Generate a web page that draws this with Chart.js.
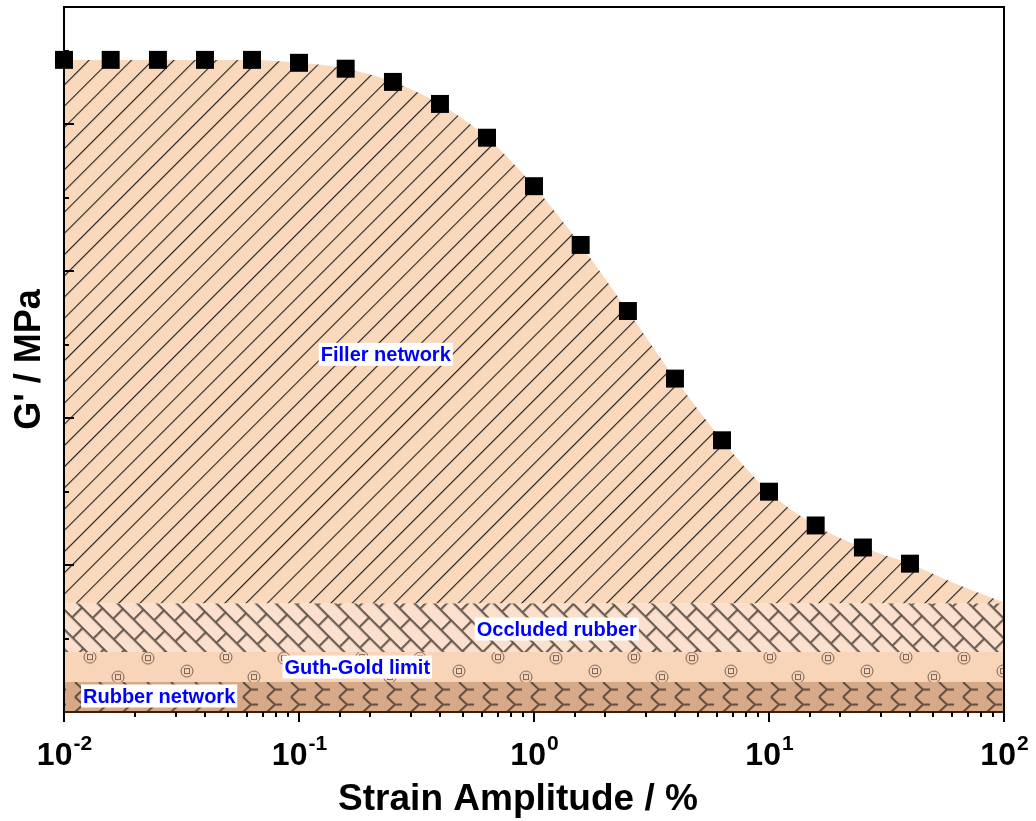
<!DOCTYPE html>
<html lang="en">
<head>
    <meta charset="UTF-8">
    <title>G' vs strain amplitude</title>
    <style>
        html, body { margin: 0; padding: 0; background: #fff; }
        #wrap { width: 1036px; height: 821px; }
    </style>
</head>
<body>
    <div id="wrap"><canvas id="payneChart" width="1036" height="821"></canvas></div>

    <script src="https://cdn.jsdelivr.net/npm/chart.js"></script>
    <script>
        // measured points: strain amplitude (%) and storage modulus (axis carries no numbers)
        const strain = [0.01, 0.0158, 0.0251, 0.0398, 0.0631, 0.1, 0.158, 0.251, 0.398, 0.631,
                        1, 1.58, 2.51, 3.98, 6.31, 10, 15.8, 25.1, 39.8];
        const storageModulus = [4.44, 4.44, 4.44, 4.44, 4.44, 4.42, 4.38, 4.29, 4.14, 3.91,
                                3.58, 3.18, 2.73, 2.27, 1.85, 1.50, 1.27, 1.12, 1.01];

        // upper edge of the filler network area (runs on past the last point to 100 %)
        const envelopeStrain = [0.01, 0.0158, 0.0251, 0.0398, 0.0631, 0.1, 0.158, 0.251, 0.398, 0.631,
                                1, 1.58, 2.51, 3.98, 6.31, 10, 15.8, 25.1, 39.8, 63.1, 100];
        const envelopeModulus = [4.44, 4.44, 4.44, 4.44, 4.44, 4.42, 4.38, 4.29, 4.14, 3.91,
                                 3.58, 3.18, 2.73, 2.27, 1.85, 1.50, 1.27, 1.12, 1.01, 0.87, 0.745];

        // horizontal contribution bands, bottom to top
        const bandNames = ['Rubber network', 'Guth-Gold limit', 'Occluded rubber'];
        const bandTops = [0.204, 0.408, 0.741];
        const strainRange = [0.01, 100];

        // text labels placed in data coordinates
        const regionLabels = [
            { text: 'Filler network', x: 0.234, y: 2.435 },
            { text: 'Occluded rubber', x: 1.25, y: 0.565 },
            { text: 'Guth-Gold limit', x: 0.177, y: 0.306 },
            { text: 'Rubber network', x: 0.0254, y: 0.109 }
        ];

        const FONT = '"Liberation Sans", Arial, sans-serif';
        const canvas = document.getElementById('payneChart');
        const ctx = canvas.getContext('2d');

        // small tiles for the hatched fills
        function makeTile(w, h, bg, draw) {
            const c = document.createElement('canvas');
            c.width = w; c.height = h;
            const g = c.getContext('2d');
            g.fillStyle = bg;
            g.fillRect(0, 0, w, h);
            draw(g);
            return ctx.createPattern(c, 'repeat');
        }

        const fillerPattern = makeTile(10, 15, '#f9d8bc', g => {
            g.fillStyle = '#1e1e1e';
            g.fillRect(0, 0, 10, 1.1);
        });
        fillerPattern.setTransform(new DOMMatrix().rotate(-45));

        const occludedPattern = makeTile(30, 28, '#fbe0cd', g => {
            g.fillStyle = 'rgba(100,86,76,0.95)';
            g.fillRect(0, 0, 30, 2.2);
            g.fillRect(0, 14, 30, 2.2);
            g.fillRect(0, 0, 2.2, 14);
            g.fillRect(15, 14, 2.2, 14);
        });

        const guthPattern = makeTile(136, 30, '#f8d5b8', g => {
            g.strokeStyle = 'rgba(115,92,80,0.95)';
            g.lineWidth = 1;
            [[12, 6], [90, 5], [51, 19], [118, 25]].forEach(([cx, cy]) => {
                g.beginPath();
                g.arc(cx, cy, 6, 0, Math.PI * 2);
                g.stroke();
                g.strokeRect(cx - 2.5, cy - 2.5, 5, 5);
            });
        });

        const rubberPattern = makeTile(24, 15, '#d6aa88', g => {
            g.strokeStyle = 'rgba(85,66,54,0.9)';
            g.lineWidth = 2;
            g.beginPath();
            g.moveTo(3, 0); g.lineTo(11, 7.5); g.lineTo(3, 15);
            g.moveTo(11, 7.5); g.lineTo(18, 7.5);
            g.stroke();
        });

        const bandData = level => strainRange.map(x => ({ x: x, y: level }));
        const points = strain.map((x, i) => ({ x: x, y: storageModulus[i] }));
        const envelope = envelopeStrain.map((x, i) => ({ x: x, y: envelopeModulus[i] }));

        const isDecade = v => {
            const m = v / Math.pow(10, Math.floor(Math.log10(v) + 1e-9));
            return Math.abs(m - 1) < 1e-6;
        };

        const axisPlugin = {
            id: 'axisPlugin',
            beforeDatasetsDraw(chart) {
                const y = chart.scales.y;
                occludedPattern.setTransform(new DOMMatrix().translate(0, y.getPixelForValue(bandTops[2])).rotate(45));
                guthPattern.setTransform(new DOMMatrix().translate(0, y.getPixelForValue(bandTops[1])));
                rubberPattern.setTransform(new DOMMatrix().translate(0, y.getPixelForValue(bandTops[0])));
            },
            beforeDatasetDraw(chart, args) {
                if (args.meta.type !== 'scatter') return;
                const c = chart.ctx, a = chart.chartArea;
                const xs = chart.scales.x, ys = chart.scales.y;
                c.save();
                // region labels on white boxes
                c.font = 'bold 20px ' + FONT;
                c.textBaseline = 'middle';
                c.textAlign = 'center';
                regionLabels.forEach(l => {
                    const px = xs.getPixelForValue(l.x), py = ys.getPixelForValue(l.y);
                    const w = c.measureText(l.text).width;
                    c.fillStyle = '#fff';
                    c.fillRect(px - w / 2 - 2, py - 11.5, w + 4, 23);
                    c.fillStyle = '#0000ff';
                    c.fillText(l.text, px, py + 1);
                });
                // frame
                c.strokeStyle = '#000';
                c.lineWidth = 2;
                c.strokeRect(a.left, a.top, a.right - a.left, a.bottom - a.top);
                c.strokeStyle = '#3f1d06';
                c.beginPath();
                c.moveTo(a.left, a.bottom); c.lineTo(a.right, a.bottom);
                c.stroke();
                // y ticks, pointing inward
                c.strokeStyle = '#000';
                c.beginPath();
                ys.ticks.forEach(t => {
                    if (t.value <= ys.min || t.value >= ys.max) return;
                    const py = Math.round(ys.getPixelForValue(t.value));
                    const len = Number.isInteger(t.value) ? 10 : 5;
                    c.moveTo(a.left, py); c.lineTo(a.left + len, py);
                });
                // x ticks, pointing outward
                xs.ticks.forEach(t => {
                    const px = Math.round(xs.getPixelForValue(t.value));
                    const len = isDecade(t.value) ? 10 : 5;
                    c.moveTo(px, a.bottom); c.lineTo(px, a.bottom + len);
                });
                c.stroke();
                c.restore();
            },
            afterDatasetsDraw(chart) {
                const c = chart.ctx, a = chart.chartArea;
                const xs = chart.scales.x;
                c.save();
                c.fillStyle = '#000';
                c.textBaseline = 'alphabetic';
                c.textAlign = 'left';
                // decade labels 10^n
                xs.ticks.filter(t => isDecade(t.value)).forEach(t => {
                    const px = xs.getPixelForValue(t.value);
                    const exp = String(Math.round(Math.log10(t.value)));
                    c.font = 'bold 32px ' + FONT;
                    const wb = c.measureText('10').width;
                    c.font = 'bold 21px ' + FONT;
                    const we = c.measureText(exp).width;
                    const x0 = px - (wb + we) / 2;
                    c.font = 'bold 32px ' + FONT;
                    c.fillText('10', x0, a.bottom + 53);
                    c.font = 'bold 21px ' + FONT;
                    c.fillText(exp, x0 + wb + 1, a.bottom + 38);
                });
                // axis titles
                c.textAlign = 'center';
                c.font = 'bold 37px ' + FONT;
                c.fillText('Strain Amplitude / %', chart.width / 2, 810);
                c.font = 'bold 36px ' + FONT;
                c.translate(40, (a.top + a.bottom) / 2);
                c.rotate(-Math.PI / 2);
                c.fillText("G' / MPa", 0, 0);
                c.restore();
            }
        };

        new Chart(ctx, {
            type: 'line',
            data: {
                datasets: [
                    { label: bandNames[0], data: bandData(bandTops[0]), fill: 'origin', order: 4,
                      backgroundColor: rubberPattern, borderWidth: 0, pointRadius: 0 },
                    { label: bandNames[1], data: bandData(bandTops[1]), fill: '-1', order: 3,
                      backgroundColor: guthPattern, borderWidth: 0, pointRadius: 0 },
                    { label: bandNames[2], data: bandData(bandTops[2]), fill: '-1', order: 2,
                      backgroundColor: occludedPattern, borderWidth: 0, pointRadius: 0 },
                    { label: 'Filler network', data: envelope, fill: '-1', order: 1,
                      backgroundColor: fillerPattern, borderWidth: 0, pointRadius: 0,
                      cubicInterpolationMode: 'monotone' },
                    { type: 'scatter', label: "G'", data: points, order: 0, pointStyle: 'rect',
                      pointRadius: 12.7, backgroundColor: '#000', borderWidth: 0, clip: false }
                ]
            },
            options: {
                responsive: false,
                animation: false,
                layout: { autoPadding: false, padding: { left: 64, top: 7, right: 32, bottom: 109 } },
                plugins: { legend: { display: false }, tooltip: { enabled: false } },
                scales: {
                    x: {
                        type: 'logarithmic', min: 0.01, max: 100,
                        ticks: { display: false },
                        grid: { display: false }, border: { display: false },
                        afterFit: s => { s.height = 0; }
                    },
                    y: {
                        min: 0, max: 4.8,
                        ticks: { display: false, stepSize: 0.5 },
                        grid: { display: false }, border: { display: false },
                        afterFit: s => { s.width = 0; }
                    }
                }
            },
            plugins: [axisPlugin]
        });
    </script>
</body>
</html>
